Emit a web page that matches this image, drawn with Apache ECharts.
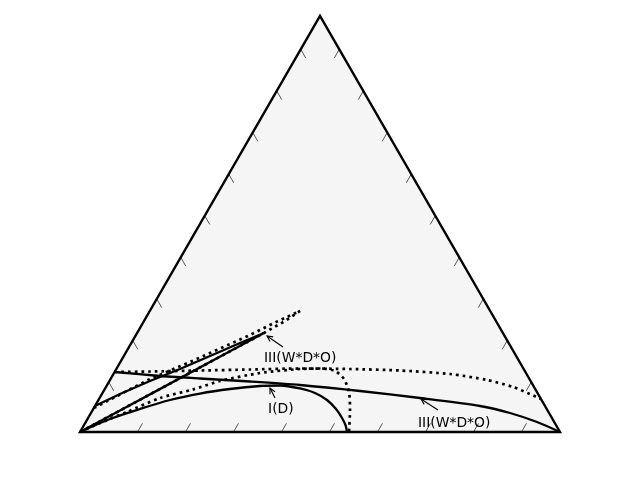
<!DOCTYPE html>
<html>
<head>
<meta charset="utf-8">
<script src="https://cdn.jsdelivr.net/npm/echarts@6/dist/echarts.min.js"></script>
<style>html,body{margin:0;padding:0;background:#fff}#c{width:640px;height:480px}</style>
</head>
<body>
<div id="c"></div>
<script>
// Ternary compositions: [top fraction, right fraction]; left fraction = 1 - top - right
const lensSolid = [[0.0625,0],[0.0913,0.0377],[0.1226,0.0845],[0.1514,0.1326],[0.1827,0.1795],[0.2139,0.2264],[0.2380,0.2643],[0.1940,0.2155],[0.1163,0.1293],[0.0517,0.0575],[0,0]];
const lensDotted = [[0.0577,0],[0.1274,0.0821],[0.1683,0.1451],[0.2007,0.1913],[0.2332,0.2376],[0.2632,0.2747],[0.2909,0.3129],[0.2668,0.2937],[0.2380,0.2643],[0.1940,0.2155],[0.1163,0.1293],[0.0517,0.0575],[0,0]];
const phaseISolid = [[0,0],[0.0313,0.0469],[0.0553,0.0974],[0.0769,0.1490],[0.0925,0.2037],[0.1034,0.2608],[0.1106,0.3197],[0.1118,0.3608],[0.1046,0.4060],[0.0938,0.4427],[0.0769,0.4761],[0.0553,0.5057],[0.0337,0.5290],[0.0168,0.5447],[0,0.5563]];
const phaseIDotted = [[0,0],[0.0216,0.0309],[0.0481,0.0739],[0.0817,0.1258],[0.1022,0.1843],[0.1226,0.2304],[0.1418,0.3041],[0.1514,0.3826],[0.1526,0.4279],[0.1466,0.4580],[0.1274,0.4863],[0.0962,0.5123],[0.0529,0.5361],[0,0.5604]];
const phaseIIISolid = [[0.1442,0],[0.1346,0.0994],[0.1286,0.1857],[0.1214,0.2935],[0.1130,0.4018],[0.0986,0.5340],[0.0817,0.6675],[0.0625,0.8021],[0.0457,0.8730],[0.0240,0.9401],[0,1]];
const phaseIIIDotted = [[0.1442,0],[0.1454,0.0731],[0.1478,0.1761],[0.1502,0.2791],[0.1526,0.3820],[0.1514,0.4868],[0.1478,0.5928],[0.1394,0.7011],[0.1250,0.7854],[0.1082,0.8480],[0.0913,0.8918],[0.0793,0.9207]];
const tickFractions = [0.1,0.2,0.3,0.4,0.5,0.6,0.7,0.8,0.9];
const annoText = ['III(W*D*O)','I(D)','III(W*D*O)'];
const annoPoint = [[0.2308,0.2742],[0.1058,0.3429],[0.0793,0.6707]];
const annoTail = [[0.2043,0.3207],[0.0817,0.3654],[0.0529,0.7194]];
const annoTextPos = [[0.1779,0.2944],[0.0553,0.3641],[0.0216,0.6934]];

const H = Math.sqrt(3) / 2;
function tern(t, r) { return [r + t / 2, t * H]; }
function toXY(arr) { return arr.map(p => tern(p[0], p[1])); }

const chart = echarts.init(document.getElementById('c'), null, {renderer: 'canvas'});

// tick data: [x, y, edge]  edge 0 bottom, 1 left, 2 right
const tickData = [];
tickFractions.forEach(f => {
  tickData.push([...tern(0, f), 0]);          // bottom edge
  tickData.push([...tern(f, 0), 1]);          // left edge
  tickData.push([...tern(f, 1 - f), 2]);      // right edge
});

const dotStyle = {color: '#000', width: 2.7, type: [2.7, 4], cap: 'butt'};
const solidStyle = {color: '#000', width: 2.3};

function lineSeries(arr, style, z, smooth) {
  return {type: 'line', data: toXY(arr), showSymbol: false, symbol: 'none', smooth: smooth,
    lineStyle: style, z: z, silent: true, clip: false, animation: false};
}

const option = {
  animation: false,
  backgroundColor: '#fff',
  grid: {left: 80, right: 80, top: 16, bottom: 48},
  xAxis: {type: 'value', min: 0, max: 1, show: false},
  yAxis: {type: 'value', min: 0, max: H, show: false},
  series: [
    {type: 'custom', z: 0, silent: true, clip: false, data: [[0, 0]],
      renderItem: function (params, api) {
        const a = api.coord([0, 0]), b = api.coord([1, 0]), c = api.coord([0.5, H]);
        return {type: 'polygon', shape: {points: [a, b, c]}, style: {fill: '#f5f5f5', stroke: null}};
      }},
    {type: 'custom', z: 1, silent: true, clip: false, data: tickData,
      renderItem: function (params, api) {
        const p = api.coord([api.value(0), api.value(1)]);
        const e = api.value(2);
        const s = 9.5, L = 10;
        let edge, dir;
        if (e === 0) { edge = [1, 0]; dir = [0.5, -0.866]; }
        else if (e === 1) { edge = [0.5, -0.866]; dir = [0.5, 0.866]; }
        else { edge = [-0.5, -0.866]; dir = [-0.5, 0.866]; }
        const x1 = p[0] + edge[0] * s, y1 = p[1] + edge[1] * s;
        return {type: 'line', shape: {x1: x1, y1: y1, x2: x1 + dir[0] * L, y2: y1 + dir[1] * L},
          style: {stroke: '#444', lineWidth: 0.9}};
      }},
    lineSeries(lensDotted, dotStyle, 2, false),
    lineSeries(phaseIDotted, dotStyle, 2, 0.25),
    lineSeries(phaseIIIDotted, dotStyle, 2, 0.25),
    lineSeries(lensSolid, solidStyle, 3, false),
    lineSeries(phaseISolid, solidStyle, 3, 0.3),
    lineSeries(phaseIIISolid, solidStyle, 3, 0.25),
    {type: 'custom', z: 4, silent: true, clip: false, data: [[0, 0]],
      renderItem: function (params, api) {
        const a = api.coord([0, 0]), b = api.coord([1, 0]), c = api.coord([0.5, H]);
        return {type: 'polygon', shape: {points: [a, b, c]}, style: {fill: null, stroke: '#000', lineWidth: 2.4, lineJoin: 'miter'}};
      }},
    {type: 'custom', z: 5, silent: true, clip: false,
      data: annoPoint.map((p, i) => [...tern(p[0], p[1]), i]),
      renderItem: function (params, api) {
        const i = api.value(2);
        const tip = api.coord([api.value(0), api.value(1)]);
        const tail = api.coord(tern(annoTail[i][0], annoTail[i][1]));
        const tp = api.coord(tern(annoTextPos[i][0], annoTextPos[i][1]));
        const dx = tip[0] - tail[0], dy = tip[1] - tail[1];
        const len = Math.sqrt(dx * dx + dy * dy);
        const ux = dx / len, uy = dy / len;
        const hl = 5.6, hw = 2.8;
        const bx = tip[0] - ux * hl, by = tip[1] - uy * hl;
        const px = -uy * hw, py = ux * hw;
        return {type: 'group', children: [
          {type: 'line', shape: {x1: tail[0], y1: tail[1], x2: tip[0], y2: tip[1]}, style: {stroke: '#000', lineWidth: 1.1}},
          {type: 'polyline', shape: {points: [[bx + px, by + py], tip, [bx - px, by - py]]}, style: {stroke: '#000', lineWidth: 1.1, fill: null}},
          {type: 'text', x: tp[0], y: tp[1], style: {text: annoText[i], font: '13.9px "DejaVu Sans"', fill: '#000', align: 'left', verticalAlign: 'middle'}}
        ]};
      }}
  ]
};
chart.setOption(option);
</script>
</body>
</html>
